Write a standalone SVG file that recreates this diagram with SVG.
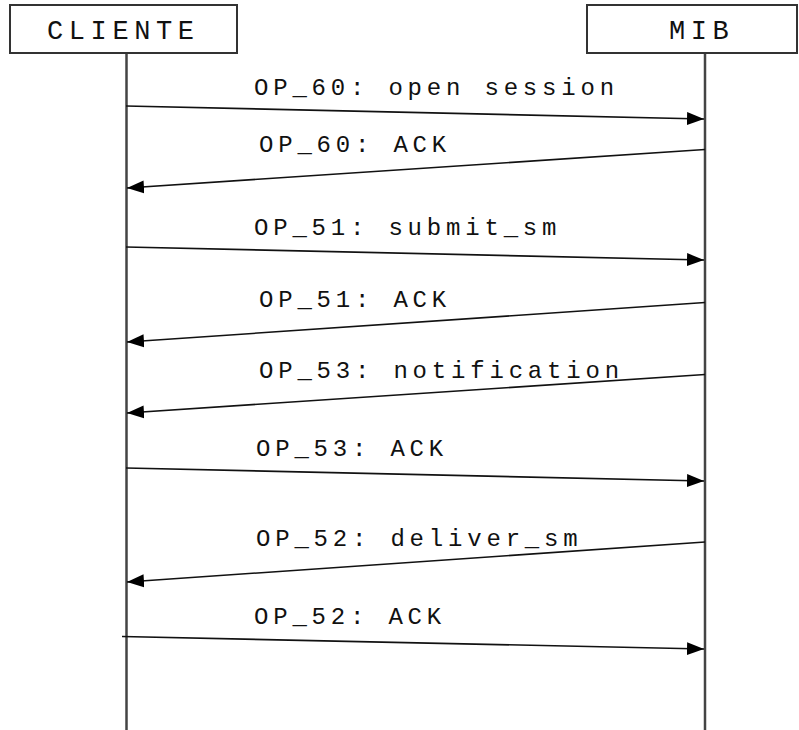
<svg xmlns="http://www.w3.org/2000/svg" width="799" height="730" viewBox="0 0 799 730">
  <defs>
    <marker id="arr" markerUnits="userSpaceOnUse" markerWidth="18" markerHeight="14" refX="17" refY="7" orient="auto">
      <path d="M0,0.5 L17,7 L0,13.5 z" fill="#000"/>
    </marker>
    <style>
      .box { fill: #fff; stroke: #333; stroke-width: 2; }
      .life { stroke: #444; stroke-width: 2.5; fill: none; }
      .msg { stroke: #111; stroke-width: 1.6; fill: none; marker-end: url(#arr); }
      .hdr { font-family: "Liberation Mono", "Courier New", monospace; font-size: 27px; letter-spacing: 5.6px; fill: #111; }
      .lbl { font-family: "Liberation Mono", "Courier New", monospace; font-size: 24px; letter-spacing: 4.8px; fill: #111; }
    </style>
  </defs>
  <rect width="799" height="730" fill="#fff"/>
  <g id="cliente">
    <line class="life" x1="126.5" y1="53" x2="126.5" y2="730"/>
    <rect class="box" x="10" y="5" width="227" height="48"/>
    <text class="hdr" x="47" y="39">CLIENTE</text>
  </g>
  <g id="mib">
    <line class="life" x1="705" y1="53" x2="705" y2="730"/>
    <rect class="box" x="587" y="5" width="210" height="48"/>
    <text class="hdr" x="669" y="39">MIB</text>
  </g>
  <g id="connectors">
    <line class="msg" x1="126" y1="106" x2="704" y2="119"/>
    <line class="msg" x1="705" y1="149.5" x2="127" y2="188"/>
    <line class="msg" x1="126" y1="247" x2="704" y2="260"/>
    <line class="msg" x1="705" y1="302.5" x2="127" y2="342"/>
    <line class="msg" x1="705" y1="374.5" x2="127" y2="413"/>
    <line class="msg" x1="126" y1="468" x2="704" y2="481"/>
    <line class="msg" x1="705" y1="542" x2="127" y2="582"/>
    <line class="msg" x1="122" y1="636.5" x2="704" y2="649"/>
  </g>
  <g id="labels">
    <text class="lbl" x="254" y="95">OP_60: open session</text>
    <text class="lbl" x="259" y="152">OP_60: ACK</text>
    <text class="lbl" x="254" y="235">OP_51: submit_sm</text>
    <text class="lbl" x="259" y="307">OP_51: ACK</text>
    <text class="lbl" x="259" y="378">OP_53: notification</text>
    <text class="lbl" x="256" y="456">OP_53: ACK</text>
    <text class="lbl" x="256" y="546">OP_52: deliver_sm</text>
    <text class="lbl" x="254" y="624">OP_52: ACK</text>
  </g>
</svg>
